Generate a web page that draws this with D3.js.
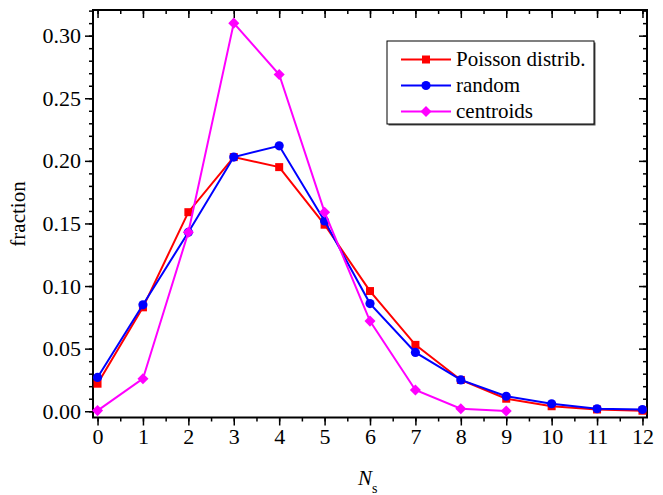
<!DOCTYPE html>
<html>
<head>
<meta charset="utf-8">
<script src="https://cdn.jsdelivr.net/npm/d3@7"></script>
<style>
html,body{margin:0;padding:0;background:#fff;}
svg{display:block;}
text{font-family:"Liberation Serif","Times New Roman",serif;fill:#000;}
</style>
</head>
<body>
<svg id="chart" width="663" height="495"></svg>
<script>
const ns = [0,1,2,3,4,5,6,7,8,9,10,11,12];
const poisson = [0.022,0.083,0.159,0.203,0.195,0.149,0.096,0.053,0.025,0.010,0.004,0.0014,0.0004];
const random = [0.027,0.085,0.143,0.203,0.212,0.152,0.086,0.047,0.025,0.012,0.006,0.002,0.0014];
const centroids = [0.0005,0.026,0.143,0.310,0.269,0.159,0.072,0.017,0.002,0.0002];
const xTicks = [0,1,2,3,4,5,6,7,8,9,10,11,12];
const yTicks = [0.00,0.05,0.10,0.15,0.20,0.25,0.30];
const seriesNames = ["Poisson distrib.","random","centroids"];

const svg = d3.select("#chart");
const L=93, R=647, T=10, B=417.5;
const x = d3.scaleLinear().domain([-0.1,12.1]).range([L,R]);
const y = d3.scaleLinear().domain([-0.005,0.3205]).range([B,T]);

const series = [
  {name:seriesNames[0], vals:poisson, color:"#ff0000", sym:d3.symbolSquare, size:64},
  {name:seriesNames[1], vals:random, color:"#0000ff", sym:d3.symbolCircle, size:66},
  {name:seriesNames[2], vals:centroids, color:"#ff00ff", sym:d3.symbolDiamond2, size:78}
];

const xMinor = d3.range(0,12.01,0.5);
const yMinor = d3.range(0,0.3201,0.01);
const fmt = d3.format(".2f");
const FONT = "'Liberation Serif', 'Times New Roman', serif";

const gB = svg.append("g").attr("transform",`translate(0,${B})`)
  .call(d3.axisBottom(x).tickValues(xMinor).tickSize(4).tickFormat(""));
gB.append("g").call(d3.axisBottom(x).tickValues(xTicks).tickSize(8).tickFormat(d3.format("d")));
const gT = svg.append("g").attr("transform",`translate(0,${T})`)
  .call(d3.axisBottom(x).tickValues(xMinor).tickSize(4).tickFormat(""));
gT.append("g").call(d3.axisBottom(x).tickValues(xTicks).tickSize(8).tickFormat(""));
const gL = svg.append("g").attr("transform",`translate(${L},0)`)
  .call(d3.axisLeft(y).tickValues(yMinor).tickSize(4).tickFormat(""));
gL.append("g").call(d3.axisLeft(y).tickValues(yTicks).tickSize(8).tickFormat(fmt));
const gR = svg.append("g").attr("transform",`translate(${R},0)`)
  .call(d3.axisLeft(y).tickValues(yMinor).tickSize(4).tickFormat(""));
gR.append("g").call(d3.axisLeft(y).tickValues(yTicks).tickSize(8).tickFormat(""));

svg.selectAll("g").attr("font-family",null);
svg.selectAll(".domain").remove();
svg.selectAll(".tick line").attr("stroke","#000").attr("stroke-width",1.5);
svg.selectAll(".tick text").style("font-size","22px").style("font-family",FONT).attr("fill","#000");
gB.selectAll(".tick text").attr("y",11).attr("dy","0.71em");
gL.selectAll(".tick text").attr("x",-12).attr("dy","0.32em");

svg.append("rect").attr("x",L).attr("y",T).attr("width",R-L).attr("height",B-T)
  .attr("fill","none").attr("stroke","#000").attr("stroke-width",2);

const line = d3.line().x((d,i)=>x(ns[i])).y(d=>y(d));
const plot = svg.append("g");
series.forEach(s=>{
  plot.append("path").datum(s.vals).attr("d",line)
    .attr("fill","none").attr("stroke",s.color).attr("stroke-width",2);
  plot.selectAll(null).data(s.vals).enter().append("path")
    .attr("transform",(d,i)=>`translate(${x(ns[i])},${y(d)})`)
    .attr("d",d3.symbol().type(s.sym).size(s.size))
    .attr("fill",s.color);
});

// legend
const lg = svg.append("g");
const lx=387, ly=41, lw=207, lh=83;
lg.append("rect").attr("x",lx+1.5).attr("y",ly+1.5).attr("width",lw).attr("height",lh).attr("fill","#555");
lg.append("rect").attr("x",lx).attr("y",ly).attr("width",lw).attr("height",lh).attr("fill","#fff").attr("stroke","#000").attr("stroke-width",1);
series.forEach((s,i)=>{
  const yy = 59.5 + i*26;
  lg.append("line").attr("x1",401).attr("x2",451).attr("y1",yy).attr("y2",yy).attr("stroke",s.color).attr("stroke-width",2);
  lg.append("path").attr("transform",`translate(426,${yy})`).attr("d",d3.symbol().type(s.sym).size(s.size)).attr("fill",s.color);
  lg.append("text").attr("x",456).attr("y",yy).attr("dy","0.33em").style("font-size","21px").style("font-family",FONT).text(s.name);
});

svg.append("text").attr("transform","translate(25,214) rotate(-90)").attr("text-anchor","middle")
  .style("font-size","21px").style("font-family",FONT).text("fraction");
const xt = svg.append("text").attr("x",358).attr("y",485).style("font-size","21px").style("font-family",FONT);
xt.append("tspan").style("font-style","italic").text("N");
xt.append("tspan").attr("dy",8).style("font-size","14px").text("s");
</script>
</body>
</html>
